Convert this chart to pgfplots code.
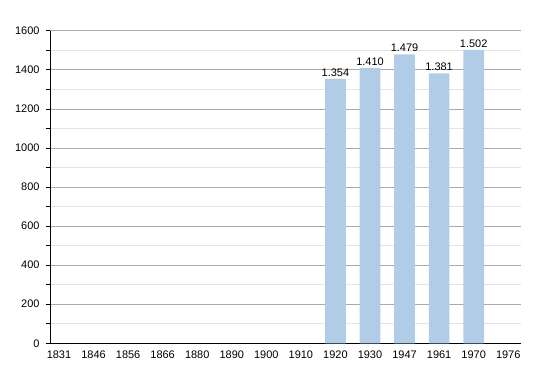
\documentclass[border=0pt]{standalone}
\usepackage{pgfplots}
\pgfplotsset{compat=1.18}
\usepackage{fontspec}
\setmainfont{Liberation Sans}
\definecolor{barblue}{RGB}{176,204,230}
\definecolor{majgrid}{RGB}{170,170,170}
\definecolor{mingrid}{RGB}{228,228,228}
\begin{document}
\begin{tikzpicture}
\useasboundingbox (-50bp,-29.7bp) rectangle (500bp,343.3bp);
\begin{axis}[
  at={(0,0)}, anchor=south west,
  scale only axis,
  width=471bp, height=312.6bp,
  xmin=-0.26, xmax=13.37,
  ymin=0, ymax=1600,
  axis x line*=bottom,
  axis y line*=left,
  axis line style={black, line width=0.8pt},
  xtick={0,...,13},
  xticklabels={1831,1846,1856,1866,1880,1890,1900,1910,1920,1930,1947,1961,1970,1976},
  major x tick style={draw=none},
  ytick={0,200,...,1600},
  minor ytick={100,300,...,1500},
  ymajorgrids, yminorgrids,
  major grid style={majgrid, line width=0.6pt},
  minor grid style={mingrid, line width=0.6pt},
  y tick style={black, line width=0.6pt},
  tick align=outside,
  major tick length=4bp,
  minor tick length=4bp,
  tick label style={font=\fontsize{11}{13}\selectfont},
  yticklabel style={/pgf/number format/1000 sep={}, /pgf/number format/assume math mode=true, xshift=-3bp},
  xticklabel style={yshift=-0.5bp},
  clip=false,
]
\addplot[ybar, bar width=20.7bp, fill=barblue, draw=none,
  nodes near coords={\pgfmathprintnumber[1000 sep={.},assume math mode=true]{\pgfplotspointmeta}},
  every node near coord/.append style={font=\fontsize{11}{13}\selectfont, black, yshift=-1bp}]
coordinates {(8,1354) (9,1410) (10,1479) (11,1381) (12,1502)};
\end{axis}
\end{tikzpicture}
\end{document}
